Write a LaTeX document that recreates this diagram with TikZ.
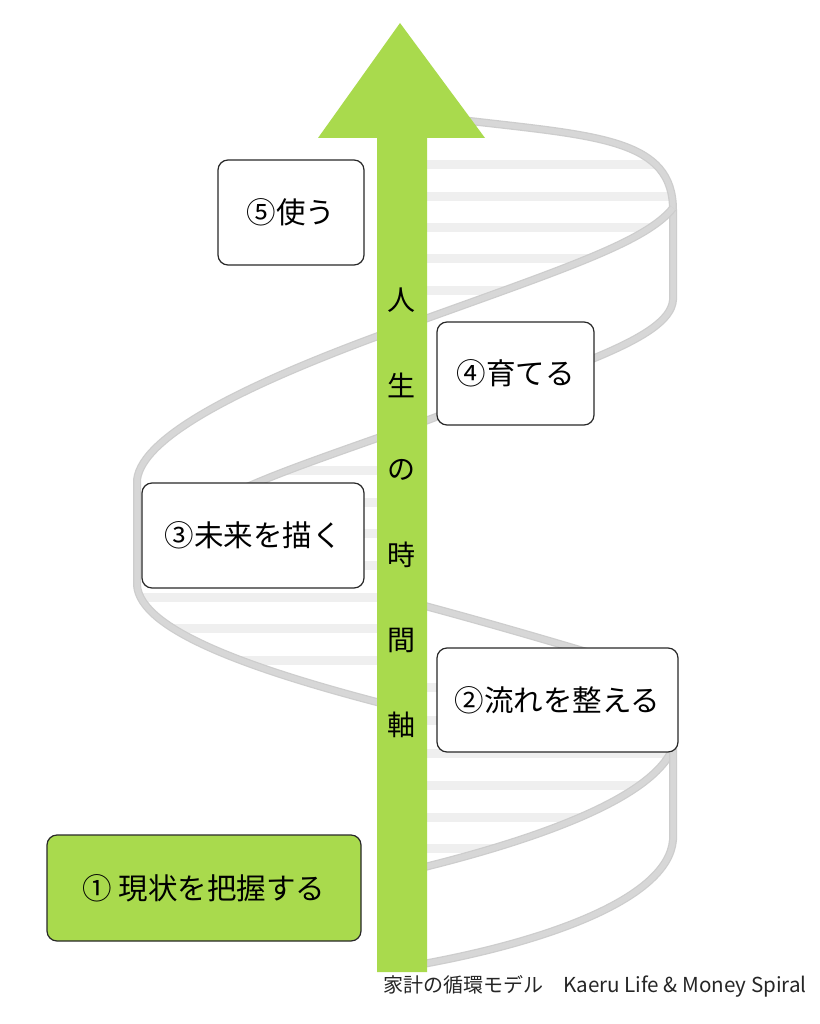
\documentclass[tikz,border=0pt]{standalone}
\usepackage{fontspec}
\newfontfamily\jp{Noto Sans CJK JP}
\definecolor{leaf}{RGB}{169,218,77}
\definecolor{band}{RGB}{205,205,205}
\definecolor{bandin}{RGB}{215,215,215}
\definecolor{stripe}{RGB}{239,239,239}
\definecolor{boxline}{RGB}{40,40,40}
\begin{document}
\begin{tikzpicture}[x=1pt,y=-1pt,
  ribbon/.style={line width=5.5pt,draw=bandin,line join=round,preaction={draw=band,line width=8pt,line join=round}},
  stripeline/.style={line width=9pt,draw=stripe},
  stepbox/.style={draw=boxline,line width=1.2pt,rounded corners=10pt,fill=white,inner sep=0pt,font=\jp\fontsize{29.5}{32}\selectfont,text=black},
  axischar/.style={font=\jp\fontsize{28}{30}\selectfont,text=black,inner sep=0pt}]
\useasboundingbox (0,0) rectangle (819,1024);
\fill[white] (0,0) rectangle (819,1024);

% stripes (inner surface of the ribbon)
\begin{scope}
\clip (400,112) -- (470,121) .. controls (600,136) and (673,140) .. (673,210)
      .. controls (645,243) and (560,270) .. (400,328) -- cycle;
\foreach \yy in {165,197,228,258,290} \draw[stripeline] (400,\yy) -- (700,\yy);
\end{scope}
\begin{scope}
\clip (420,423) .. controls (330,455) and (270,475) .. (240,490) -- (137,585)
      .. controls (140,630) and (250,670) .. (400,708) -- cycle;
\foreach \yy in {470,502,533,565,597,628,660} \draw[stripeline] (100,\yy) -- (420,\yy);
\end{scope}
\begin{scope}
\clip (395,598) -- (600,656) -- (673,690) -- (673,748)
      .. controls (652,798) and (540,840) .. (400,873) -- cycle;
\foreach \yy in {687,720,753,785,817,848} \draw[stripeline] (400,\yy) -- (700,\yy);
\end{scope}

% ribbon edges
\draw[ribbon] (440,117) -- (470,121) .. controls (600,136) and (673,140) .. (673,210) -- (673,300)
      .. controls (670,340) and (560,370) .. (420,423) .. controls (330,455) and (270,475) .. (230,495);
\draw[ribbon] (673,208) .. controls (645,243) and (560,270) .. (400,328)
      .. controls (250,382) and (142,435) .. (137,480) -- (137,585)
      .. controls (140,630) and (250,670) .. (400,708);
\draw[ribbon] (395,598) .. controls (460,615) and (530,635) .. (600,656);
\draw[ribbon] (673,700) -- (673,748) .. controls (652,798) and (540,840) .. (400,873);
\draw[ribbon] (673,748) -- (673,840) .. controls (668,900) and (540,945) .. (400,968);

% time axis arrow
\fill[leaf] (377,972) -- (377,138) -- (318,138) -- (400,23) -- (485,138) -- (427,138) -- (427,972) -- cycle;
\foreach \c/\yy in {人/300,生/385,の/470,時/555,間/640,軸/725}
  \node[axischar] (ax\yy) at (401,\yy) {\c};

% steps
\node[stepbox,minimum width=146pt,minimum height=105pt] (s5) at (291,212.5) {⑤使う};
\node[stepbox,minimum width=157pt,minimum height=103pt] (s4) at (515.5,373.5) {④育てる};
\node[stepbox,minimum width=222pt,minimum height=105pt] (s3) at (253,535.5) {③未来を描く};
\node[stepbox,minimum width=241pt,minimum height=104pt] (s2) at (557.5,700) {②流れを整える};
\node[stepbox,fill=leaf,minimum width=314pt,minimum height=106pt] (s1) at (204,888) {① 現状を把握する};

\node[anchor=base west,inner sep=0pt,font=\jp\fontsize{20}{22}\selectfont,text=black!85] (cap) at (383,992)
  {家計の循環モデル　{\fontsize{20.6}{22}\selectfont Kaeru Life \& Money Spiral}};
\end{tikzpicture}
\end{document}
